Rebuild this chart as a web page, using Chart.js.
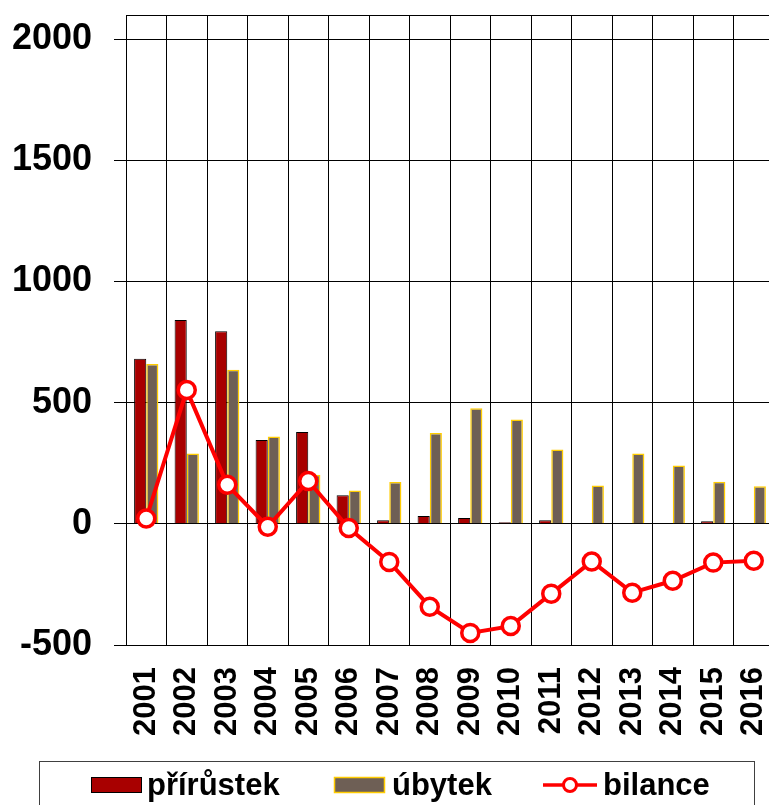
<!DOCTYPE html>
<html>
<head>
<meta charset="utf-8">
<script src="https://cdn.jsdelivr.net/npm/chart.js@4.4.1/dist/chart.umd.min.js"></script>
<style>
  html, body { margin: 0; padding: 0; background: #fff; overflow: hidden; }
  canvas { display: block; }
</style>
</head>
<body>
<canvas id="bilanceChart" width="776" height="805"></canvas>
<script>
const years = ["2001", "2002", "2003", "2004", "2005", "2006", "2007", "2008",
  "2009", "2010", "2011", "2012", "2013", "2014", "2015", "2016"];
const prirustek = [681, 841, 795, 346, 379, 118, 15, 32, 24, 7, 15, 0, 3, 3, 11, 3];
const ubytek = [660, 290, 636, 360, 203, 138, 173, 375, 477, 431, 307, 158, 290, 241, 174, 155];
const bilance = [22, 552, 161, -12, 177, -17, -157, -342, -450, -422, -288, -155, -284, -235, -160, -152];
const yTicks = [-500, 0, 500, 1000, 1500, 2000];
const yMin = -500;
const yMax = 2100;

const FONT = "'Liberation Sans', Arial, sans-serif";

// legend drawn by hand at the bottom, inside a framed box
const bottomLegend = {
  id: "bottomLegend",
  afterDraw(chart) {
    const ctx = chart.ctx;
    const ds = chart.data.datasets;
    ctx.save();
    ctx.strokeStyle = "#404040";
    ctx.lineWidth = 1;
    ctx.strokeRect(39.5, 761.5, 715, 60);

    ctx.font = "bold 31px " + FONT;
    ctx.fillStyle = "#000";
    ctx.textBaseline = "middle";
    const ty = 786;

    // přírůstek
    ctx.fillStyle = ds[1].backgroundColor;
    ctx.fillRect(91, 777, 51, 16);
    ctx.strokeStyle = ds[1].borderColor;
    ctx.strokeRect(91.5, 777.5, 50, 15);
    ctx.fillStyle = "#000";
    ctx.fillText(ds[1].label, 147, ty);

    // úbytek
    ctx.fillStyle = ds[2].backgroundColor;
    ctx.fillRect(334, 777, 51, 16);
    ctx.strokeStyle = ds[2].borderColor;
    ctx.lineWidth = 1.5;
    ctx.strokeRect(334.5, 777.5, 50, 15);
    ctx.fillStyle = "#000";
    ctx.fillText(ds[2].label, 392, ty);

    // bilance
    ctx.strokeStyle = ds[0].borderColor;
    ctx.lineWidth = 3.5;
    ctx.beginPath();
    ctx.moveTo(543, 785);
    ctx.lineTo(597, 785);
    ctx.stroke();
    ctx.beginPath();
    ctx.arc(570, 785, 6.5, 0, Math.PI * 2);
    ctx.fillStyle = "#fff";
    ctx.fill();
    ctx.lineWidth = 3;
    ctx.stroke();
    ctx.fillStyle = "#000";
    ctx.fillText(ds[0].label, 603, ty);
    ctx.restore();
  }
};

const chart = new Chart(document.getElementById("bilanceChart"), {
  type: "bar",
  data: {
    labels: years,
    datasets: [
      {
        type: "line",
        label: "bilance",
        data: bilance,
        borderColor: "#ff0000",
        borderWidth: 4,
        pointRadius: 8.5,
        pointBorderWidth: 3.5,
        pointBackgroundColor: "#ffffff",
        pointBorderColor: "#ff0000",
        tension: 0,
        clip: false,
        order: 0
      },
      {
        label: "přírůstek",
        data: prirustek,
        backgroundColor: "#a80000",
        borderColor: "#000000",
        borderWidth: 1,
        categoryPercentage: 0.6,
        barPercentage: 1.0,
        order: 1
      },
      {
        label: "úbytek",
        data: ubytek,
        backgroundColor: "#6e5f55",
        borderColor: "#ffcc00",
        borderWidth: 1.5,
        categoryPercentage: 0.6,
        barPercentage: 1.0,
        order: 2
      }
    ]
  },
  options: {
    responsive: false,
    animation: false,
    devicePixelRatio: 1,
    layout: { autoPadding: false, padding: { top: 15, left: 0, right: 2, bottom: 0 } },
    plugins: {
      legend: { display: false },
      tooltip: { enabled: false }
    },
    scales: {
      x: {
        offset: true,
        grid: { color: "#000", lineWidth: 1, offset: true, drawTicks: false },
        border: { display: true, color: "#000" },
        ticks: {
          minRotation: 90,
          maxRotation: 90,
          padding: 22,
          autoSkip: false,
          color: "#000",
          font: { family: FONT, size: 31, weight: "bold" }
        },
        afterFit(scale) {
          scale.height = 160;
          scale.paddingLeft = 0;
          scale.paddingRight = 0;
        }
      },
      y: {
        min: yMin,
        max: yMax,
        grid: {
          color: "#000",
          lineWidth: 1,
          tickLength: 12,
          tickColor: (c) => (c.tick && c.tick.value === yMax ? "rgba(0,0,0,0)" : "#000")
        },
        border: { display: true, color: "#000" },
        ticks: {
          padding: 22,
          color: "#000",
          font: { family: FONT, size: 36, weight: "bold" },
          callback: (v) => (v === yMax ? "" : v)
        },
        afterBuildTicks(scale) {
          scale.ticks = yTicks.concat([yMax]).map(v => ({ value: v }));
        },
        afterFit(scale) {
          scale.width = 126;
          scale.paddingTop = 0;
          scale.paddingBottom = 0;
        }
      }
    }
  },
  plugins: [bottomLegend]
});
</script>
</body>
</html>
